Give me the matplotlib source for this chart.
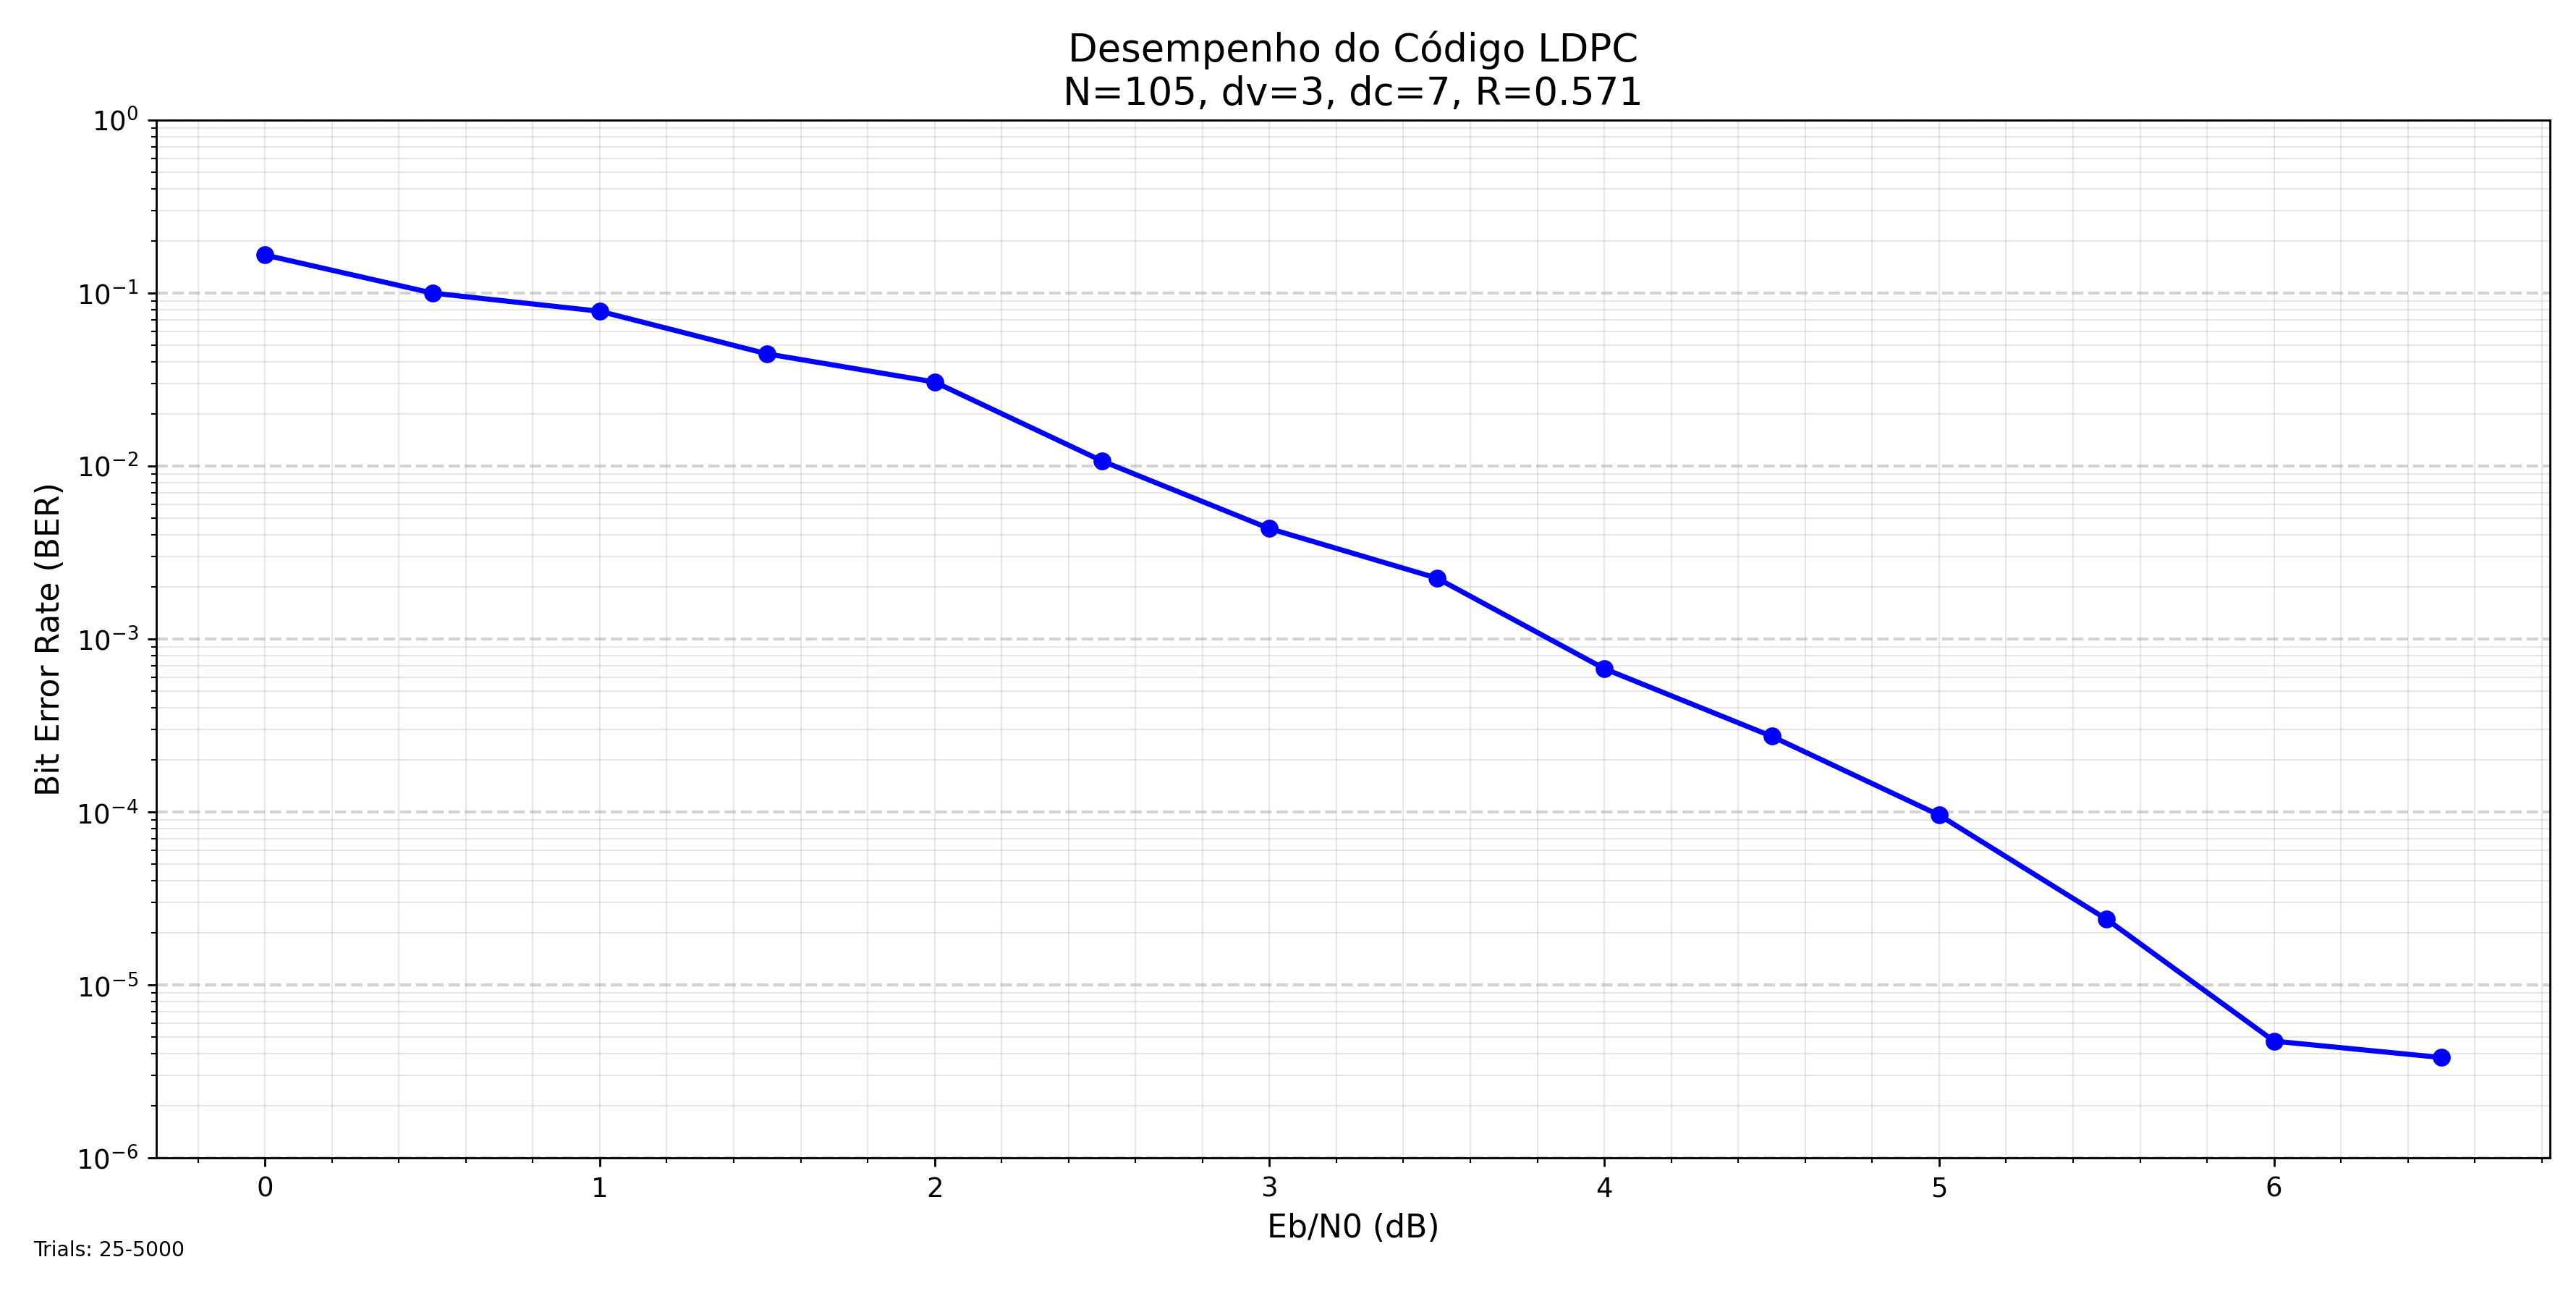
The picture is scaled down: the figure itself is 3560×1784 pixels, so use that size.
import numpy as np
import matplotlib
matplotlib.use('Agg')
from matplotlib import pyplot as plt
from matplotlib.ticker import AutoMinorLocator

ebn0 = [0, 0.5, 1, 1.5, 2, 2.5, 3, 3.5, 4, 4.5, 5, 5.5, 6, 6.5]
ber = [0.166, 0.100, 0.0785, 0.0445, 0.0306, 0.0107, 0.00435, 0.00225,
       0.000674, 0.000274, 9.6e-5, 2.4e-5, 4.74e-6, 3.81e-6]

fig, ax = plt.subplots(figsize=(3560/254, 1784/254), dpi=254)
ax.semilogy(ebn0, ber, 'o-', color='blue', linewidth=2, markersize=6)
ax.set_ylim(1e-6, 1)
ax.xaxis.set_minor_locator(AutoMinorLocator(5))
ax.grid(True, which='both', alpha=0.3, linewidth=0.6)
ax.grid(True, which='major', axis='y', linestyle='--', color='gray', alpha=0.35, linewidth=1.2)
ax.tick_params(labelsize=10.5)
ax.set_xlabel('Eb/N0 (dB)', fontsize=12.5)
ax.set_ylabel('Bit Error Rate (BER)', fontsize=12.5)
ax.set_title('Desempenho do Código LDPC\nN=105, dv=3, dc=7, R=0.571', fontsize=15)
fig.text(0.013, 0.027, 'Trials: 25-5000', fontsize=8)
fig.subplots_adjust(left=0.0606, right=0.990, top=0.907, bottom=0.103)
plt.savefig('out.png')
